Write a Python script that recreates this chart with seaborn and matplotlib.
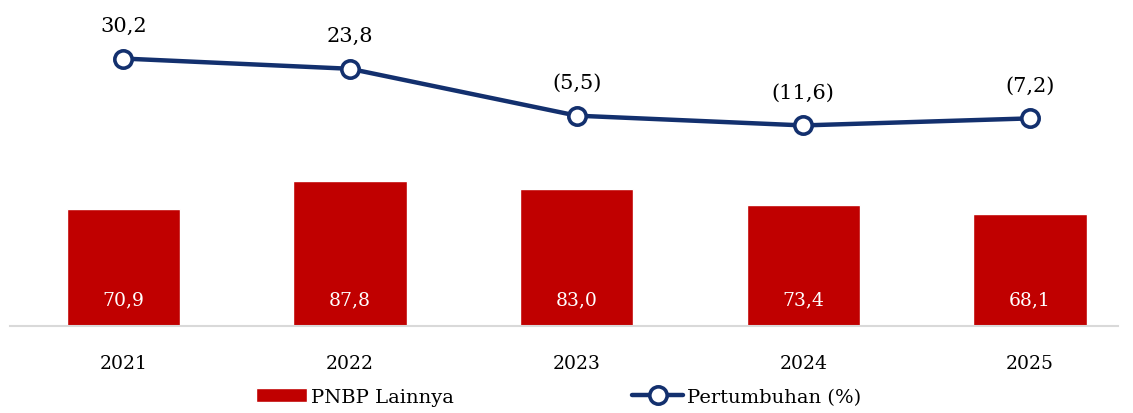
import numpy as np
import pandas as pd
import matplotlib
matplotlib.use("Agg")
import matplotlib.pyplot as plt
import seaborn as sns

years = ["2021", "2022", "2023", "2024", "2025"]
pnbp = [70.9, 87.8, 83.0, 73.4, 68.1]
growth = [30.2, 23.8, -5.5, -11.6, -7.2]

sns.set_style("white")
plt.rcParams["font.family"] = ["DejaVu Serif"]
plt.rcParams["text.color"] = "black"
plt.rcParams["xtick.color"] = "black"

red = "#C00000"
navy = "#13306E"


def fmt(v):
    s = f"{abs(v):.1f}".replace(".", ",")
    return f"({s})" if v < 0 else s


df = pd.DataFrame({"tahun": years, "pnbp": pnbp, "growth": growth, "pos": np.arange(len(years))})

fig = plt.figure(figsize=(11.33, 4.14), dpi=100)
ax = fig.add_axes([0.009, 0.21, 0.978, 0.742])

sns.barplot(data=df, x="tahun", y="pnbp", color=red, width=0.5, saturation=1, ax=ax)
ax.set_ylim(0, 186)
ax.set_xlim(-0.5, 4.39)
for i, v in enumerate(pnbp):
    ax.text(i, 16, fmt(v), color="white", ha="center", va="center", fontsize=13.5)

ax2 = ax.twinx()
sns.lineplot(data=df, x="pos", y="growth", color=navy, linewidth=3.2, marker="o",
             markersize=12.5, markerfacecolor="white", markeredgecolor=navy,
             markeredgewidth=2.6, ax=ax2, legend=False)
ax2.set_ylim(-137, 55)
for i, v in enumerate(growth):
    ax2.annotate(fmt(v), (i, v), xytext=(0, 24), textcoords="offset points",
                 ha="center", va="center", fontsize=15)

for a in (ax, ax2):
    a.set_xlabel("")
    a.set_ylabel("")
    a.set_yticks([])
    for s in ["top", "left", "right"]:
        a.spines[s].set_visible(False)
ax2.spines["bottom"].set_visible(False)
ax.spines["bottom"].set_color("#D9D9D9")
ax.spines["bottom"].set_linewidth(1.5)
ax.tick_params(axis="x", length=0, pad=20, labelsize=13.5)

handles = [ax.patches[0], ax2.lines[0]]
labels = ["PNBP Lainnya", "Pertumbuhan (%)"]
fig.legend(handles, labels, loc="lower center", bbox_to_anchor=(0.493, -0.025), ncol=2,
           frameon=False, fontsize=14, handlelength=2.6, columnspacing=9.2,
           handletextpad=0.2)

fig.savefig("out.png", dpi=100)
